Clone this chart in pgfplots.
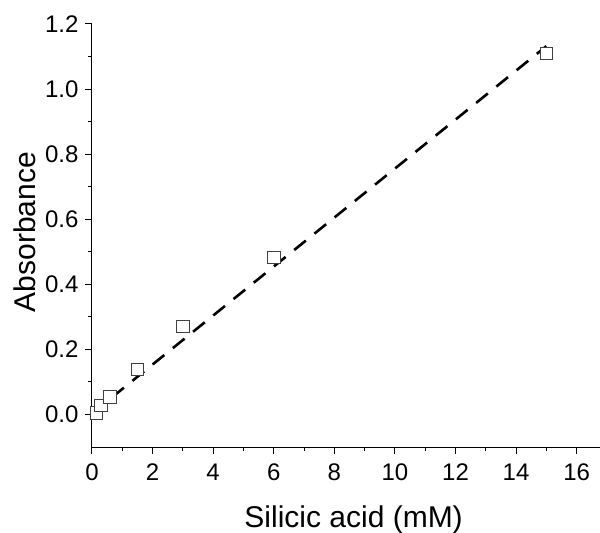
\documentclass[border=0pt]{standalone}
\usepackage{pgfplots}
\pgfplotsset{compat=1.18}
\usepackage{fontspec}
\setmainfont{Liberation Sans}

\begin{document}
\begin{tikzpicture}
    \begin{axis}
    [
        scale only axis,
        width=508pt,
        height=423pt,
        xmin=0, xmax=16.77,
        ymin=-0.1, ymax=1.2,
        axis x line=bottom,
        axis y line=left,
        axis line style={-, line width=1pt},
        xtick={0,2,...,16},
        ytick={0,0.2,...,1.2},
        minor x tick num=1,
        minor y tick num=1,
        tick align=outside,
        major tick length=7pt,
        minor tick length=4pt,
        tick style={black, line width=1pt},
        xticklabel={\fontsize{24}{26}\selectfont\pgfmathprintnumber[fixed,assume math mode=true]{\tick}},
        yticklabel={\fontsize{24}{26}\selectfont\pgfmathprintnumber[fixed,fixed zerofill,precision=1,assume math mode=true]{\tick}},
        xticklabel style={yshift=-6pt},
        yticklabel style={xshift=-3pt},
        label style={font=\fontsize{30}{34}\selectfont},
        xlabel={Silicic acid (mM)},
        ylabel={Absorbance},
        xlabel style={at={(axis description cs:0.515,0)}, anchor=base, yshift=-80pt},
        ylabel style={at={(axis description cs:0,0.508)}, anchor=center, yshift=67pt},
        clip=false
    ]
    % linear fit
    \addplot[black, line width=2.6pt, dash pattern=on 15pt off 11pt] coordinates {
        (0, 0.003)
        (15, 1.132)
    };
    % measured points
    \addplot[only marks, mark=square*, mark size=6.3pt,
             mark options={draw=black!75, fill=white, line width=0.9pt}] coordinates {
        (0.15, 0.005)
        (0.3, 0.028)
        (0.6, 0.054)
        (1.5, 0.138)
        (3, 0.270)
        (6, 0.483)
        (15, 1.110)
    };
    \end{axis}
    \pgfresetboundingbox
    \useasboundingbox (-92pt,-86pt) rectangle (508pt,447pt);
\end{tikzpicture}
\end{document}
